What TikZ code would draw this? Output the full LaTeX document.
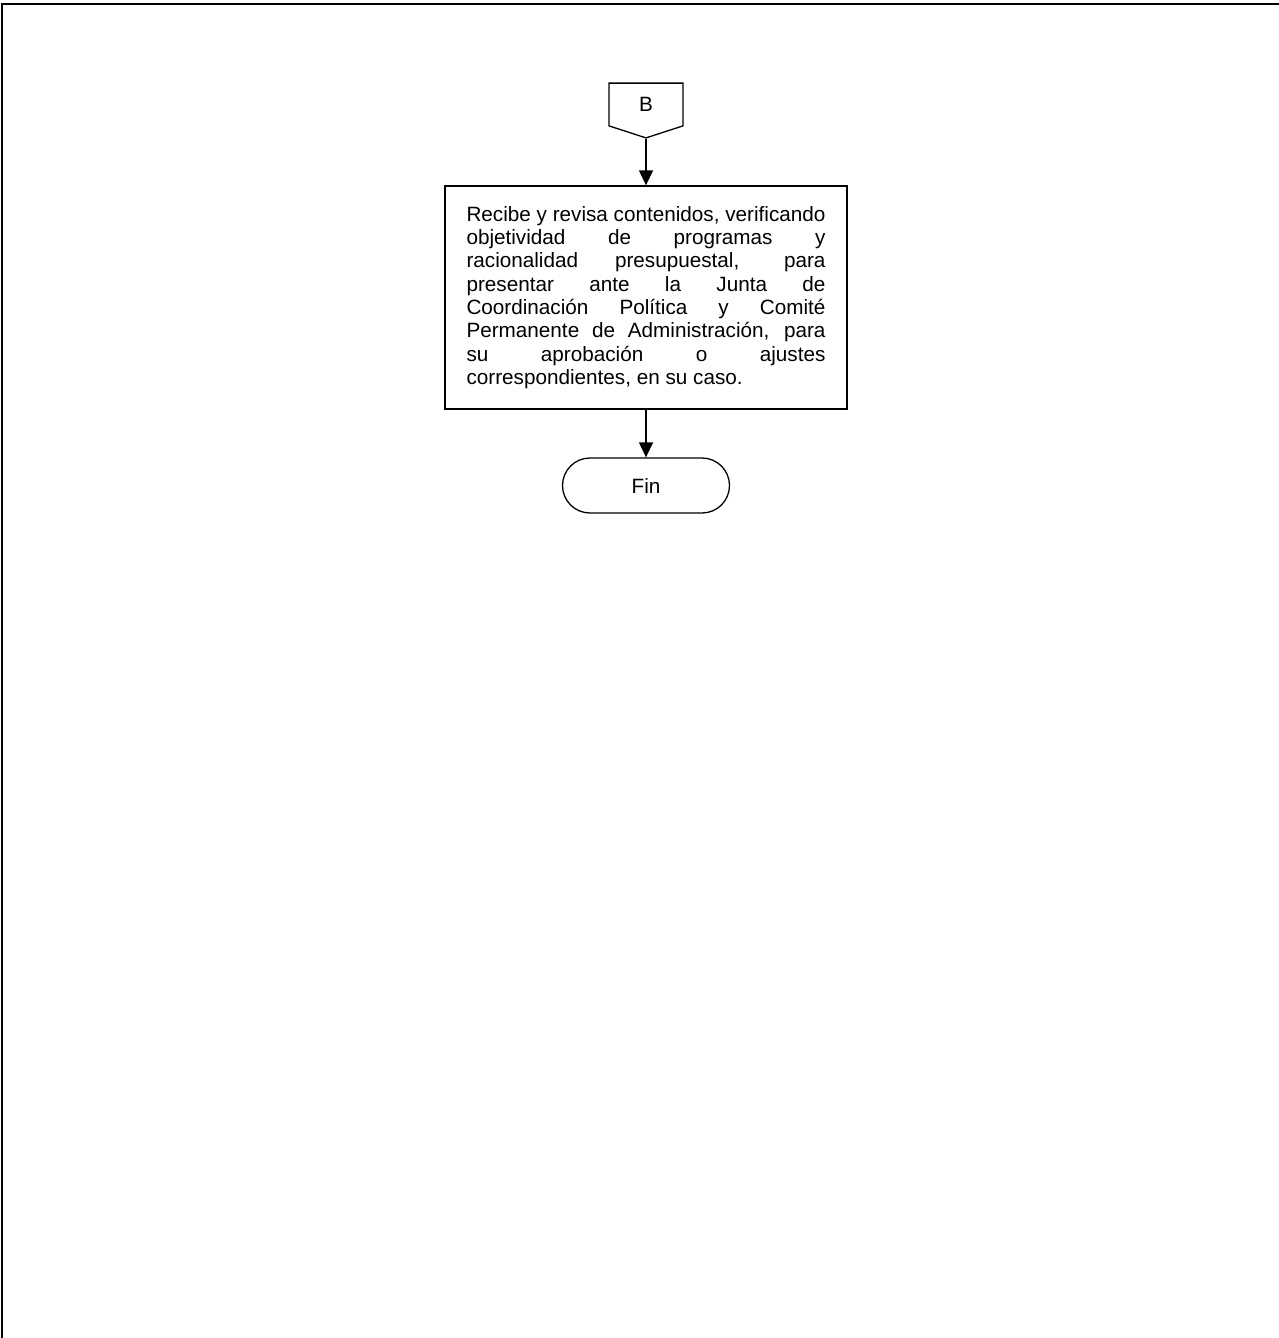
\documentclass[tikz,border=0pt]{standalone}
\usepackage{fontspec}
\setmainfont{Liberation Sans}
\usepackage{tikz}
\usetikzlibrary{arrows.meta}
\usetikzlibrary{shapes.symbols,positioning}

\hyphenpenalty=10000
\tolerance=10000

\tikzset{
  marco/.style={line width=1pt,black},
  conector/.style={draw,line width=0.65pt,shape=signal,signal to=south,signal from=nowhere,
    signal pointer angle=144,minimum width=37pt,minimum height=22.5pt,inner sep=0pt,
    font=\fontsize{10.35}{11.65}\selectfont},
  proceso/.style={draw,line width=0.65pt,rectangle,text width=179.5pt,inner xsep=10.75pt,
    minimum height=111.5pt,align=justify,
    font=\fontsize{10.35}{11.65}\selectfont},
  terminal/.style={draw,line width=0.65pt,rectangle,rounded corners=13.75pt,
    minimum width=83.5pt,minimum height=27.5pt,font=\fontsize{10.35}{11.65}\selectfont},
  flecha/.style={line width=0.65pt,black,-{Triangle[length=7.5pt,width=7pt]}}
}

\begin{document}
\begin{tikzpicture}[x=0.5pt, y=-0.5pt]
 			\useasboundingbox (0,0) rectangle (1279,1338);
 			\draw[marco] (2,1338) -- (2,4) -- (1279,4);
 			
 			\path 
 			(646,104.5)  coordinate (pB)
 			(646,297.5) coordinate (pRev)
 			(646,485.5) coordinate (pFin)
 			;
 			
 			\node[conector] (B) at (pB) {B};
 			\node[proceso] (rev) at (pRev) {Recibe y revisa contenidos, verificando\linebreak
 			objetividad de programas y\linebreak
 			racionalidad presupuestal, para\linebreak
 			presentar ante la Junta de\linebreak
 			Coordinación Política y Comité\linebreak
 			Permanente de Administración, para\linebreak
 			su aprobación o ajustes\linebreak
 			correspondientes, en su caso.\par\vspace*{4pt}};
 			\node[terminal] (fin) at (pFin) {Fin};
 			
 			\draw[flecha] (B.south) -- (rev.north);
 			\draw[flecha] (rev.south) -- (fin.north);
 		\end{tikzpicture}
\end{document}
